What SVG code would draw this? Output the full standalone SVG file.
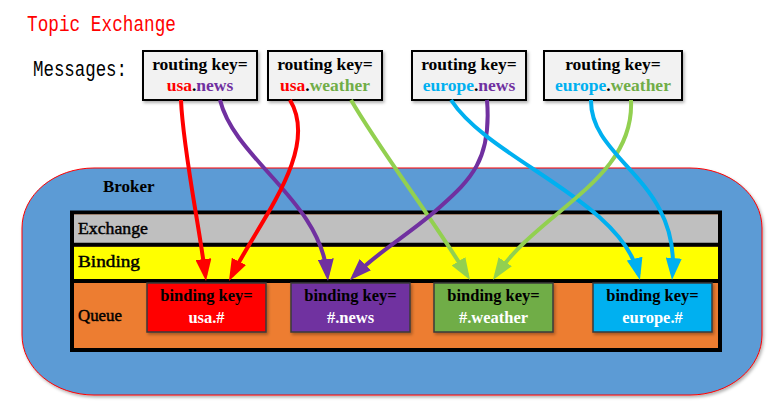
<svg xmlns="http://www.w3.org/2000/svg" width="780" height="411" viewBox="0 0 780 411">
<style>
.title{font-family:"Liberation Mono","Courier New",monospace;font-size:22px}
.msgbox{fill:#F2F2F2;stroke:#000;stroke-width:2}
.bt{font-family:"Liberation Serif","Times New Roman",serif;font-weight:bold;text-anchor:middle}
.rk{font-size:17.5px}
.bk{font-size:16.5px}
.band{font-family:"Liberation Serif","Times New Roman",serif;font-size:17px;fill:#000;stroke:#000;stroke-width:0.45}
.broker{font-family:"Liberation Serif","Times New Roman",serif;font-weight:bold;font-size:17px;fill:#000}
.qbox{stroke:#3a3a3a;stroke-width:1.5}
.conn{fill:none;stroke-width:4}
</style>
<defs>
<filter id="sh" x="-10%" y="-10%" width="130%" height="130%">
<feDropShadow dx="1.5" dy="2" stdDeviation="1.5" flood-color="#000" flood-opacity="0.3"/>
</filter>
<marker id="mR" viewBox="0 0 22 16" markerWidth="22" markerHeight="16" markerUnits="userSpaceOnUse" refX="16" refY="8" orient="auto"><path d="M0,0 L22,8 L0,16 z" fill="#FF0000"/></marker>
<marker id="mP" viewBox="0 0 22 16" markerWidth="22" markerHeight="16" markerUnits="userSpaceOnUse" refX="16" refY="8" orient="auto"><path d="M0,0 L22,8 L0,16 z" fill="#7030A0"/></marker>
<marker id="mG" viewBox="0 0 22 16" markerWidth="22" markerHeight="16" markerUnits="userSpaceOnUse" refX="16" refY="8" orient="auto"><path d="M0,0 L22,8 L0,16 z" fill="#92D050"/></marker>
<marker id="mB" viewBox="0 0 22 16" markerWidth="22" markerHeight="16" markerUnits="userSpaceOnUse" refX="16" refY="8" orient="auto"><path d="M0,0 L22,8 L0,16 z" fill="#00B0F0"/></marker>
</defs>
<rect width="780" height="411" fill="#fff"/>
<text class="title" x="27" y="31" fill="#FF0000" textLength="149" lengthAdjust="spacingAndGlyphs">Topic Exchange</text>
<text class="title" x="33" y="76" fill="#000" textLength="94" lengthAdjust="spacingAndGlyphs">Messages:</text>

<g id="broker">
<rect x="22" y="168" width="740" height="227" rx="72" ry="60" fill="#5B9BD5" stroke="#FF0000" stroke-width="1" filter="url(#sh)"/>
<text class="broker" x="103" y="192">Broker</text>
</g>

<g id="exchange-area">
<rect x="72" y="212.5" width="648" height="137.5" fill="#ED7D31" stroke="#000" stroke-width="4"/>
<rect x="74" y="214.5" width="644" height="28.5" fill="#BFBFBF"/>
<rect x="74" y="246.7" width="644" height="32.3" fill="#FFFF00"/>
<line x1="72" y1="244.8" x2="720" y2="244.8" stroke="#000" stroke-width="4"/>
<line x1="72" y1="281" x2="720" y2="281" stroke="#000" stroke-width="4"/>
<text class="band" x="78" y="234" textLength="70" lengthAdjust="spacingAndGlyphs">Exchange</text>
<text class="band" x="78" y="267" textLength="62" lengthAdjust="spacingAndGlyphs">Binding</text>
<text class="band" x="78" y="321" textLength="44" lengthAdjust="spacingAndGlyphs">Queue</text>
</g>

<g id="msg-usa-news">
<rect class="msgbox" x="143" y="51" width="114" height="49" filter="url(#sh)"/>
<text class="bt rk" x="200" y="70">routing key=</text>
<text class="bt rk" x="200" y="91"><tspan fill="#FF0000">usa</tspan>.<tspan fill="#7030A0">news</tspan></text>
</g>
<g id="msg-usa-weather">
<rect class="msgbox" x="268" y="51" width="114" height="49" filter="url(#sh)"/>
<text class="bt rk" x="325" y="70">routing key=</text>
<text class="bt rk" x="325" y="91"><tspan fill="#FF0000">usa</tspan>.<tspan fill="#70AD47">weather</tspan></text>
</g>
<g id="msg-europe-news">
<rect class="msgbox" x="412" y="51" width="114" height="49" filter="url(#sh)"/>
<text class="bt rk" x="469" y="70">routing key=</text>
<text class="bt rk" x="469" y="91"><tspan fill="#00B0F0">europe</tspan>.<tspan fill="#7030A0">news</tspan></text>
</g>
<g id="msg-europe-weather">
<rect class="msgbox" x="544" y="51" width="138" height="49" filter="url(#sh)"/>
<text class="bt rk" x="613" y="70">routing key=</text>
<text class="bt rk" x="613" y="91"><tspan fill="#00B0F0">europe</tspan>.<tspan fill="#70AD47">weather</tspan></text>
</g>

<g id="q-usa">
<rect class="qbox" x="147" y="283" width="119" height="49" fill="#FF0000" filter="url(#sh)"/>
<text class="bt bk" x="206.5" y="301">binding key=</text>
<text class="bt bk" x="206.5" y="323" fill="#fff">usa.#</text>
</g>
<g id="q-news">
<rect class="qbox" x="291" y="283" width="119" height="49" fill="#7030A0" filter="url(#sh)"/>
<text class="bt bk" x="350.5" y="301">binding key=</text>
<text class="bt bk" x="350.5" y="323" fill="#fff">#.news</text>
</g>
<g id="q-weather">
<rect class="qbox" x="434" y="283" width="119" height="49" fill="#70AD47" filter="url(#sh)"/>
<text class="bt bk" x="493.5" y="301">binding key=</text>
<text class="bt bk" x="493.5" y="323" fill="#fff">#.weather</text>
</g>
<g id="q-europe">
<rect class="qbox" x="593" y="283" width="119" height="49" fill="#00B0F0" filter="url(#sh)"/>
<text class="bt bk" x="652.5" y="301">binding key=</text>
<text class="bt bk" x="652.5" y="323" fill="#fff">europe.#</text>
</g>

<g id="connectors">
<path class="conn" stroke="#7030A0" marker-end="url(#mP)" d="M220,100 C235,160 320,200 327.4,275"/>
<path class="conn" stroke="#FF0000" marker-end="url(#mR)" d="M181,100 C183,150 200,230 205.3,275"/>
<path class="conn" stroke="#FF0000" marker-end="url(#mR)" d="M290,100 C320,150 260,220 231.7,275.6"/>
<path class="conn" stroke="#92D050" marker-end="url(#mG)" d="M351,100 C380,150 430,215 466.9,274.9"/>
<path class="conn" stroke="#7030A0" marker-end="url(#mP)" d="M487,100 C492,160 470,180 440,207 S380,250 354,276"/>
<path class="conn" stroke="#00B0F0" marker-end="url(#mB)" d="M451,100 C490,160 620,200 638.5,274.2"/>
<path class="conn" stroke="#92D050" marker-end="url(#mG)" d="M631,100 C635,180 540,210 496.3,275"/>
<path class="conn" stroke="#00B0F0" marker-end="url(#mB)" d="M591,100 C590,160 680,180 672.5,274"/>
</g>
</svg>
